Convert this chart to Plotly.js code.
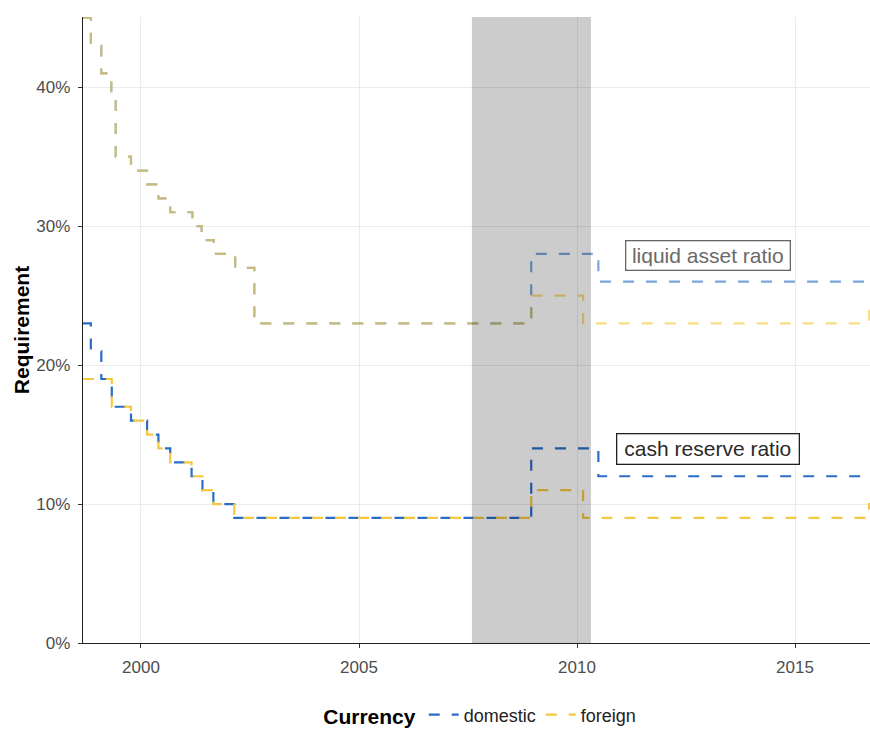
<!DOCTYPE html>
<html>
<head>
<meta charset="utf-8">
<script src="https://cdn.plot.ly/plotly-3.0.1.min.js"></script>
<style>html,body{margin:0;padding:0;background:#fff;}#chart{width:870px;height:730px;}</style>
</head>
<body>
<div id="chart"></div>
<script>
// Liquid asset ratio (both currencies identical until 2008.95)
const liqDomX = [1998.67, 1998.85, 1999.09, 1999.32, 1999.42, 1999.77, 2000.14, 2000.40, 2000.67, 2001.18, 2001.39, 2001.67, 2002.16, 2002.60, 2008.95, 2010.49, 2016.72];
const liqDomY = [45, 43, 41, 39.5, 35, 34, 33, 32, 31, 30, 29, 28, 27, 23, 28, 26, 26];
const liqForX = [1998.67, 1998.85, 1999.09, 1999.32, 1999.42, 1999.77, 2000.14, 2000.40, 2000.67, 2001.18, 2001.39, 2001.67, 2002.16, 2002.60, 2008.95, 2010.14, 2016.70, 2016.80];
const liqForY = [45, 43, 41, 39.5, 35, 34, 33, 32, 31, 30, 29, 28, 27, 23, 25, 23, 24.5, 24.5];
// Cash reserve ratio
const cashDomX = [1998.67, 1998.85, 1999.09, 1999.33, 1999.77, 2000.14, 2000.40, 2000.67, 2001.16, 2001.41, 2001.66, 2002.14, 2008.95, 2010.49, 2016.72];
const cashDomY = [23, 21, 19, 17, 16, 15, 14, 13, 12, 11, 10, 9, 14, 12, 12];
const cashForX = [1998.67, 1999.33, 1999.77, 2000.14, 2000.40, 2000.67, 2001.16, 2001.41, 2001.66, 2002.14, 2008.95, 2010.14, 2016.70, 2016.80];
const cashForY = [19, 17, 16, 15, 14, 13, 12, 11, 10, 9, 11, 9, 10, 10];
// Crisis shading
const shadeStart = 2007.59, shadeEnd = 2010.32;
// Labels
const labels = ["liquid asset ratio", "cash reserve ratio"];
const labelX = [2013.0, 2013.0];
const labelY = [27.88, 13.96];
const currencies = ["domestic", "foreign"];
const xTicks = [2000, 2005, 2010, 2015];
const yTicks = [0, 10, 20, 30, 40];
const yTickText = ["0%", "10%", "20%", "30%", "40%"];

const blue = "#2A6DC6", yellow = "#F5C842";
const dashPat = "11px,12px";
const lw = 2.2;

const traces = [
  {x: liqDomX, y: liqDomY, mode: "lines", line: {shape: "hv", color: blue, width: lw, dash: dashPat}, opacity: 0.62, showlegend: false, hoverinfo: "skip"},
  {x: liqForX, y: liqForY, mode: "lines", line: {shape: "hv", color: yellow, width: lw, dash: dashPat}, opacity: 0.64, showlegend: false, hoverinfo: "skip"},
  {x: cashDomX, y: cashDomY, mode: "lines", name: currencies[0], line: {shape: "hv", color: blue, width: lw, dash: dashPat}, legendgroup: "d"},
  {x: cashForX, y: cashForY, mode: "lines", name: currencies[1], line: {shape: "hv", color: yellow, width: lw, dash: dashPat}, legendgroup: "f"}
];

const layout = {
  width: 870, height: 730,
  margin: {l: 83, r: 0, t: 17, b: 87, autoexpand: false},
  paper_bgcolor: "#fff", plot_bgcolor: "#fff",
  font: {family: "Liberation Sans, Arial, sans-serif", color: "#4D4D4D", size: 17},
  xaxis: {
    range: [1998.67, 2016.72], tickvals: xTicks, ticktext: xTicks.map(String),
    showgrid: true, gridcolor: "#EBEBEB", gridwidth: 1, zeroline: false,
    showline: true, linecolor: "#222", linewidth: 1.2,
    ticks: "outside", ticklen: 4, tickcolor: "#333", tickwidth: 1,
    ticklabelstandoff: 4,
    tickfont: {size: 17, color: "#4D4D4D"}
  },
  yaxis: {
    range: [0, 45.05], tickvals: yTicks, ticktext: yTickText,
    showgrid: true, gridcolor: "#EBEBEB", gridwidth: 1, zeroline: false,
    showline: true, linecolor: "#222", linewidth: 1.2,
    ticks: "outside", ticklen: 4, tickcolor: "#333", tickwidth: 1,
    ticklabelstandoff: 4,
    tickfont: {size: 17, color: "#4D4D4D"},
    title: {text: "<b>Requirement</b>", font: {size: 21, color: "#000"}, standoff: 1}
  },
  shapes: [{type: "rect", xref: "x", yref: "paper", x0: shadeStart, x1: shadeEnd, y0: 0, y1: 1,
    fillcolor: "rgba(0,0,0,0.2)", line: {width: 0}, layer: "above"}],
  annotations: [
    {x: labelX[0], y: labelY[0], xref: "x", yref: "y", text: labels[0], showarrow: false,
      width: 157, height: 22, align: "center",
      font: {size: 21, color: "#6a6a6a"}, bgcolor: "#fff", bordercolor: "#666", borderwidth: 1.3, borderpad: 3},
    {x: labelX[1], y: labelY[1], xref: "x", yref: "y", text: labels[1], showarrow: false,
      width: 175, height: 23, align: "center",
      font: {size: 21, color: "#2a2a2a"}, bgcolor: "#fff", bordercolor: "#222", borderwidth: 1.3, borderpad: 3}
  ],
  showlegend: true,
  legend: {
    orientation: "h", xref: "paper", x: 0.506, xanchor: "center", yref: "container", y: 0.02, yanchor: "middle",
    title: {text: "<b>Currency</b>", font: {size: 21, color: "#000"}, side: "left"},
    font: {size: 18, color: "#222"}, itemwidth: 30, bgcolor: "rgba(0,0,0,0)"
  }
};

Plotly.newPlot("chart", traces, layout, {displayModeBar: false, staticPlot: true});
</script>
</body>
</html>
